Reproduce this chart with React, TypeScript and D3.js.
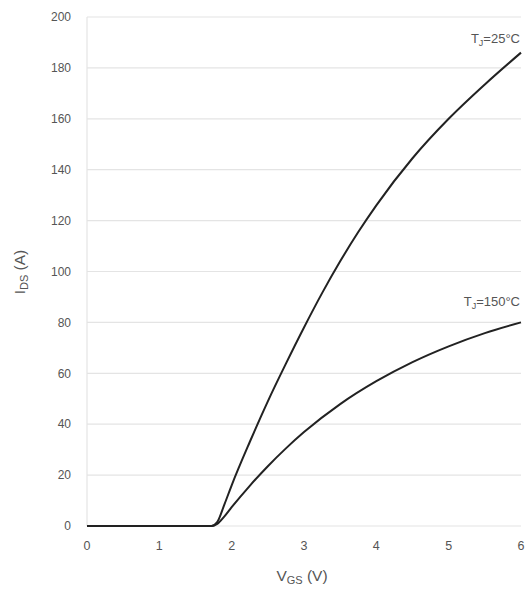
import React from "react";
import * as d3 from "d3";

const xTicks = [0, 1, 2, 3, 4, 5, 6];
const yTicks = [0, 20, 40, 60, 80, 100, 120, 140, 160, 180, 200];

const vgs25 = [0, 1, 1.72, 1.8, 1.9, 2, 2.25, 2.5, 2.75, 3, 3.25, 3.5, 3.75, 4, 4.5, 5, 5.5, 6];
const ids25 = [0, 0, 0, 1.5, 8.5, 16, 33, 49, 63.8, 78, 91.5, 104, 115.5, 126, 144.5, 160, 173.5, 186];

const vgs150 = [0, 1, 1.72, 1.8, 1.9, 2, 2.25, 2.5, 2.75, 3, 3.5, 4, 4.5, 5, 5.5, 6];
const ids150 = [0, 0, 0, 0.8, 3.8, 7.4, 15.8, 23.5, 30.5, 36.9, 47.9, 56.9, 64.4, 70.6, 75.8, 80];

export default function App() {
  const W = 529, H = 590;
  const x = d3.scaleLinear().domain([0, 6]).range([87, 521]);
  const y = d3.scaleLinear().domain([0, 200]).range([526, 17]);
  const line = d3
    .line<[number, number]>()
    .x((d) => x(d[0]))
    .y((d) => y(d[1]))
    .curve(d3.curveMonotoneX);
  const d25 = line(vgs25.map((v, i) => [v, ids25[i]] as [number, number])) || "";
  const d150 = line(vgs150.map((v, i) => [v, ids150[i]] as [number, number])) || "";
  const font = "'Liberation Sans', Arial, sans-serif";
  const txt = "#555";
  return (
    <svg width={W} height={H} style={{ position: "absolute", left: 0, top: 0, background: "#fff" }} fontFamily={font}>
      {yTicks.map((t) => (
        <line key={"g" + t} x1={x(0)} x2={x(6)} y1={y(t)} y2={y(t)} stroke="#e4e4e4" strokeWidth={1.2} />
      ))}
      <line x1={x(0)} x2={x(0)} y1={y(0)} y2={y(200)} stroke="#e4e4e4" strokeWidth={1.2} />
      {yTicks.map((t) => (
        <text key={"y" + t} x={71} y={y(t)} dy="0.35em" textAnchor="end" fontSize={12} fill={txt}>
          {t}
        </text>
      ))}
      {xTicks.map((t) => (
        <text key={"x" + t} x={x(t)} y={550} textAnchor="middle" fontSize={12.5} fill={txt}>
          {t}
        </text>
      ))}
      <path d={d150} fill="none" stroke="#222" strokeWidth={2} />
      <path d={d25} fill="none" stroke="#222" strokeWidth={2} />
      <text x={520} y={43} textAnchor="end" fontSize={13} fill={txt}>
        T<tspan fontSize={9} dy={3}>J</tspan>
        <tspan dy={-3}>=25°C</tspan>
      </text>
      <text x={520} y={306} textAnchor="end" fontSize={13} fill={txt}>
        T<tspan fontSize={9} dy={3}>J</tspan>
        <tspan dy={-3}>=150°C</tspan>
      </text>
      <text x={302} y={581} textAnchor="middle" fontSize={15.5} fill={txt}>
        V<tspan fontSize={11} dy={3}>GS</tspan>
        <tspan dy={-3}> (V)</tspan>
      </text>
      <text transform="translate(25,272) rotate(-90)" textAnchor="middle" fontSize={15.5} fill={txt}>
        I<tspan fontSize={11} dy={3}>DS</tspan>
        <tspan dy={-3}> (A)</tspan>
      </text>
    </svg>
  );
}
